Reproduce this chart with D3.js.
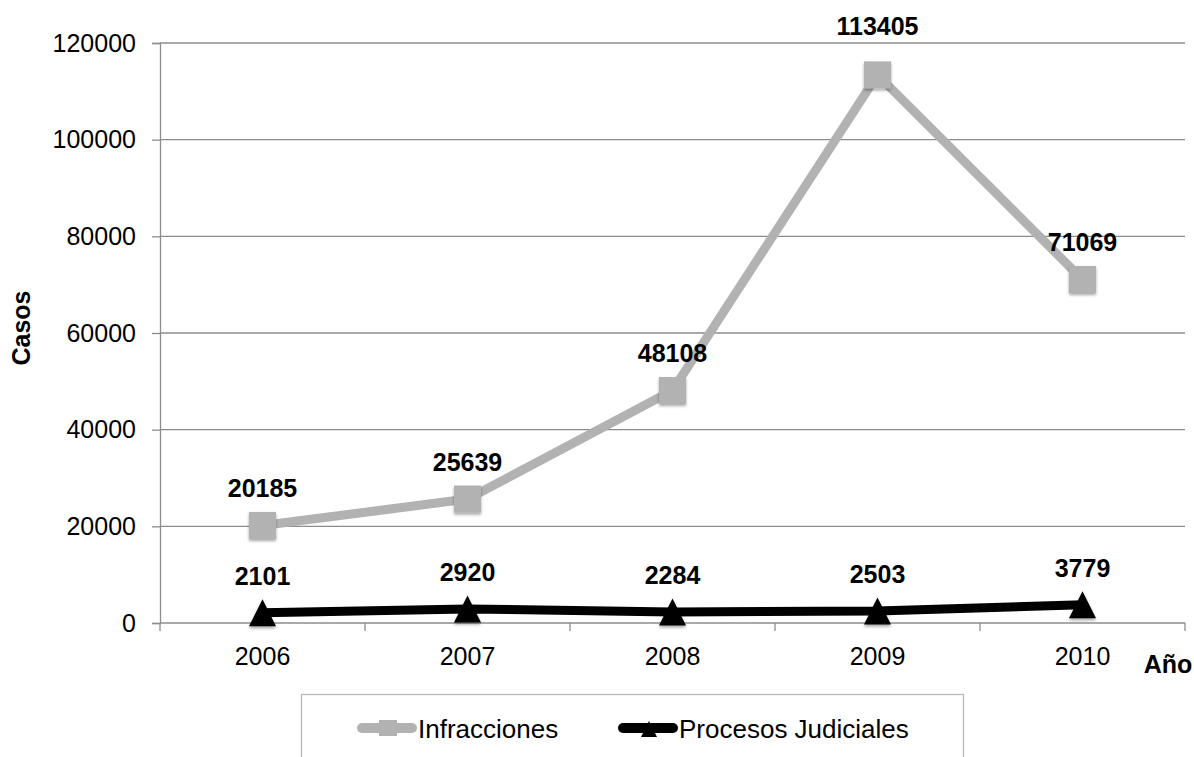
<!DOCTYPE html>
<html>
<head>
<meta charset="utf-8">
<script src="https://cdn.jsdelivr.net/npm/d3@7"></script>
<style>
  body { margin: 0; background: #fff; }
  text { font-family: "Liberation Sans", Arial, sans-serif; }
</style>
</head>
<body>
<svg id="chart" width="1194" height="757"></svg>
<script>
var years = ["2006", "2007", "2008", "2009", "2010"];
var infracciones = [20185, 25639, 48108, 113405, 71069];
var procesos = [2101, 2920, 2284, 2503, 3779];
var yTicks = [0, 20000, 40000, 60000, 80000, 100000, 120000];

var FS = 25;
var svg = d3.select("#chart"),
  MARGINS = { top: 43, right: 9, bottom: 134, left: 160 },
  WIDTH = 1194, HEIGHT = 757;

var x = d3.scaleBand()
  .domain(years)
  .range([MARGINS.left, WIDTH - MARGINS.right]);

var y = d3.scaleLinear()
  .domain([0, 120000])
  .range([HEIGHT - MARGINS.bottom, MARGINS.top]);

var cx = function (d, i) { return x(years[i]) + x.bandwidth() / 2; };

// isoceles triangle, w = h
var triType = {
  draw: function (ctx, size) {
    var s = Math.sqrt(size);
    ctx.moveTo(0, -s / 2);
    ctx.lineTo(s / 2, s / 2);
    ctx.lineTo(-s / 2, s / 2);
    ctx.closePath();
  }
};

// shadow filter
var defs = svg.append("defs");
var f = defs.append("filter").attr("id", "shadow").attr("x", "-30%").attr("y", "-30%").attr("width", "160%").attr("height", "160%");
f.append("feDropShadow").attr("dx", 0).attr("dy", 2).attr("stdDeviation", 1.5).attr("flood-color", "#000").attr("flood-opacity", 0.35);

// grid
svg.append("g")
  .selectAll("line")
  .data(yTicks.filter(function (d) { return d > 0; }))
  .enter().append("line")
  .attr("x1", MARGINS.left).attr("x2", WIDTH - MARGINS.right)
  .attr("y1", function (d) { return y(d); }).attr("y2", function (d) { return y(d); })
  .attr("stroke", "#8c8c8c").attr("stroke-width", 1.3);

// y axis
var yAxis = svg.append("g")
  .attr("transform", "translate(" + MARGINS.left + ",0)")
  .call(d3.axisLeft(y).tickValues(yTicks).tickSize(8).tickPadding(16).tickFormat(d3.format("d")));
yAxis.selectAll("path, line").attr("stroke", "#8c8c8c").attr("stroke-width", 1.3);
yAxis.selectAll("text").attr("font-size", FS).attr("fill", "#000").style("font-family", "Liberation Sans, Arial, sans-serif");

// x axis with ticks at band boundaries
var xAxis = svg.append("g")
  .attr("transform", "translate(0," + (HEIGHT - MARGINS.bottom) + ")");
xAxis.append("line")
  .attr("x1", MARGINS.left).attr("x2", WIDTH - MARGINS.right)
  .attr("stroke", "#8c8c8c").attr("stroke-width", 1.3);
xAxis.selectAll(".tk")
  .data(years.concat(["end"]))
  .enter().append("line")
  .attr("x1", function (d, i) { return MARGINS.left + i * x.bandwidth(); })
  .attr("x2", function (d, i) { return MARGINS.left + i * x.bandwidth(); })
  .attr("y1", 0).attr("y2", 8)
  .attr("stroke", "#8c8c8c").attr("stroke-width", 1.3);
xAxis.selectAll(".lbl")
  .data(years)
  .enter().append("text")
  .attr("x", function (d) { return x(d) + x.bandwidth() / 2; })
  .attr("y", 42)
  .attr("text-anchor", "middle")
  .attr("font-size", FS)
  .text(function (d) { return d; });

// axis titles
svg.append("text")
  .attr("transform", "translate(30," + 328 + ") rotate(-90)")
  .attr("text-anchor", "middle")
  .attr("font-size", FS).attr("font-weight", "bold")
  .text("Casos");
svg.append("text")
  .attr("x", 1168).attr("y", 673)
  .attr("text-anchor", "middle")
  .attr("font-size", FS).attr("font-weight", "bold")
  .text("Año");

var lineFunc = d3.line()
  .x(cx)
  .y(function (d) { return y(d); });

// Infracciones
svg.append("path")
  .attr("d", lineFunc(infracciones))
  .attr("fill", "none").attr("stroke", "#b2b2b2").attr("stroke-width", 9)
  .attr("stroke-linejoin", "round");
svg.selectAll(".sq")
  .data(infracciones)
  .enter().append("rect")
  .attr("x", function (d, i) { return cx(d, i) - 13.5; })
  .attr("y", function (d) { return y(d) - 13.5; })
  .attr("width", 27).attr("height", 27)
  .attr("fill", "#b2b2b2")
  .attr("filter", "url(#shadow)");

// Procesos Judiciales
svg.append("path")
  .attr("d", lineFunc(procesos))
  .attr("fill", "none").attr("stroke", "#000").attr("stroke-width", 9)
  .attr("stroke-linejoin", "round");
var tri = d3.symbol().type(triType).size(27 * 27);
svg.selectAll(".tri")
  .data(procesos)
  .enter().append("path")
  .attr("d", tri)
  .attr("transform", function (d, i) { return "translate(" + cx(d, i) + "," + y(d) + ")"; })
  .attr("fill", "#000")
  .attr("filter", "url(#shadow)");

// data labels (pushed above the top gridline when too close to it)
function labelY(d) {
  var ly = y(d) - 28;
  return (ly - 20 < MARGINS.top) ? MARGINS.top - 8 : ly;
}
svg.selectAll(".lab1")
  .data(infracciones)
  .enter().append("text")
  .attr("x", cx)
  .attr("y", labelY)
  .attr("text-anchor", "middle")
  .attr("font-size", FS).attr("font-weight", "bold")
  .text(function (d) { return d; });
svg.selectAll(".lab2")
  .data(procesos)
  .enter().append("text")
  .attr("x", cx)
  .attr("y", labelY)
  .attr("text-anchor", "middle")
  .attr("font-size", FS).attr("font-weight", "bold")
  .text(function (d) { return d; });

// legend
var legend = svg.append("g");
legend.append("rect")
  .attr("x", 301.5).attr("y", 694.5).attr("width", 662).attr("height", 80)
  .attr("fill", "#fff").attr("stroke", "#b8b8b8").attr("stroke-width", 1.3);
var items = [
  { name: "Infracciones", color: "#b2b2b2", x: 357, shape: "sq" },
  { name: "Procesos Judiciales", color: "#000", x: 618, shape: "tri" }
];
items.forEach(function (it) {
  var ly = 728;
  legend.append("line")
    .attr("x1", it.x + 5).attr("x2", it.x + 55)
    .attr("y1", ly).attr("y2", ly)
    .attr("stroke", it.color).attr("stroke-width", 10).attr("stroke-linecap", "round");
  if (it.shape === "sq") {
    legend.append("rect").attr("x", it.x + 22).attr("y", ly - 8).attr("width", 18).attr("height", 16).attr("fill", it.color);
  } else {
    legend.append("path").attr("d", d3.symbol().type(triType).size(16 * 16))
      .attr("transform", "translate(" + (it.x + 31) + "," + (ly + 1) + ")").attr("fill", it.color);
  }
  legend.append("text")
    .attr("x", it.x + 61).attr("y", ly + 10)
    .attr("font-size", 26)
    .text(it.name);
});
</script>
</body>
</html>
